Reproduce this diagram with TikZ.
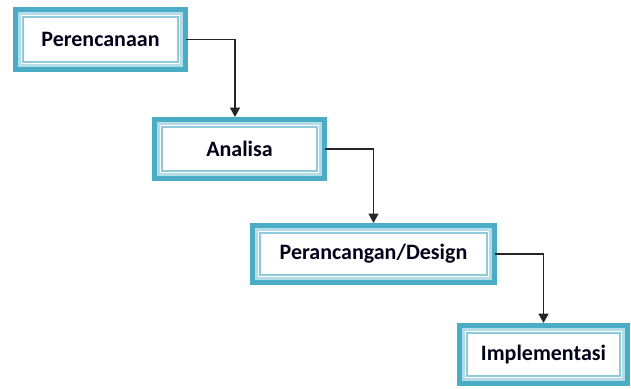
\documentclass[tikz,border=0pt]{standalone}
\usepackage{fontspec}
\setmainfont{Carlito}
\usetikzlibrary{arrows.meta}
\definecolor{frameteal}{HTML}{4BACC6}
\definecolor{framelight}{HTML}{B4DDE8}
\definecolor{frameinner}{HTML}{8FCADB}
\tikzset{stage/.style={draw=frameteal, line width=5pt, fill=white, inner sep=0pt,
  font=\fontsize{22}{26}\selectfont\bfseries, text=black!90!blue},
  flow/.style={draw=black!85, line width=1.7pt, -{Triangle[width=10pt,length=9.5pt]}}}
\begin{document}
\begin{tikzpicture}[x=1pt,y=-1pt]
\useasboundingbox (0,0) rectangle (631,388);
\node[stage, minimum width=170pt, minimum height=60pt] (plan) at (100.5,39.5) {Perencanaan};
\node[stage, minimum width=170pt, minimum height=59pt] (analisa) at (239.5,149) {Analisa};
\node[stage, minimum width=242pt, minimum height=57pt] (design) at (373.5,254) {Perancangan/Design};
\node[stage, minimum width=168pt, minimum height=58pt] (impl) at (543.5,354.5) {Implementasi};
\foreach \n in {plan,analisa,design,impl} {
\draw[framelight, line width=2.5pt] ([shift={(6.5,6.5)}]\n.north west) rectangle ([shift={(-6.5,-6.5)}]\n.south east);
\draw[frameinner, line width=1.5pt] ([shift={(10,10)}]\n.north west) rectangle ([shift={(-10,-10)}]\n.south east);}
\draw[flow] ([xshift=-2.5pt]plan.east) -| ([xshift=-4.5pt]analisa.north);
\draw[flow] ([xshift=-2.5pt]analisa.east) -| (design.north);
\draw[flow] ([xshift=-2.5pt]design.east) -| (impl.north);
\end{tikzpicture}
\end{document}
